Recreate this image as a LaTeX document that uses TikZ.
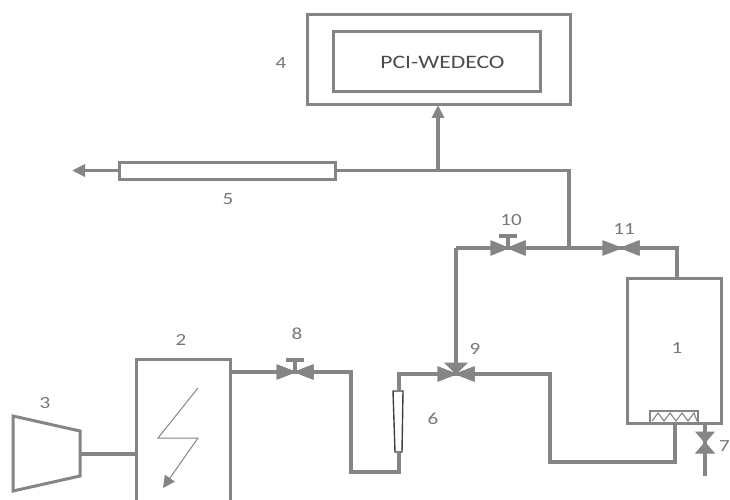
\documentclass[tikz,border=0pt]{standalone}
\usepackage{fontspec}
\setmainfont{Carlito}
\newfontfamily\widefont[FakeStretch=1.24]{Carlito}
\usetikzlibrary{arrows.meta}
\definecolor{pipegray}{gray}{0.52}
\tikzset{
	pipe/.style={draw=pipegray, line width=3.2pt, line join=miter},
	unitbox/.style={draw=pipegray, line width=3pt, fill=white, inner sep=0pt, outer sep=0pt},
	numlabel/.style={text=pipegray!90!black, font=\widefont\fontsize{17}{17}\selectfont, inner sep=0pt},
	valvetri/.style={fill=pipegray, draw=pipegray, line width=1pt, line join=miter},
}
\newcommand{\drawvalve}[3]{% name, position, half length
	\coordinate (#1) at (#2);
	\begin{scope}[shift={(#2)}]
		\fill[valvetri] (0,0) -- (-#3,-7) -- (-#3,7) -- cycle;
		\fill[valvetri] (0,0) -- (#3,-7) -- (#3,7) -- cycle;
	\end{scope}
}
\begin{document}
\begin{tikzpicture}[x=1pt, y=-1pt, >={Triangle[length=13pt,width=12pt]}]
	\useasboundingbox (0,0) rectangle (730,500);
	\clip (0,0) rectangle (730,500);
	\fill[white] (0,0) rectangle (730,500);
	% units
	\node[unitbox, minimum width=263pt, minimum height=90pt] (analyser) at (438.5,60) {};
	\node[unitbox, minimum width=207pt, minimum height=60pt, font=\widefont\fontsize{19}{19}\selectfont, text=black!70] (pci) at (436.5,62) {\hspace{12pt}PCI-WEDECO};
	\node[unitbox, minimum width=216pt, minimum height=17pt] (tube) at (227,170.5) {};
	\node[unitbox, minimum width=94pt, minimum height=145pt] (reactor) at (674,350.5) {};
	\node[unitbox, minimum width=94pt, minimum height=160pt] (ozoniser) at (183,439) {};
	% compressor
	\draw[unitbox] (13,416) -- (80,431) -- (80,476) -- (13,491) -- cycle;
	\coordinate (comp) at (80,454);
	% valves
	\drawvalve{vB}{295,372}{18}
	\drawvalve{vC}{456,374}{18}
	\drawvalve{vD}{508,248}{17}
	\drawvalve{vE}{621,248}{18}
	\coordinate (vA) at (705,442.5);
	\draw[pipe] (vB) -- ++(0,-12) ++(-9,0) -- ++(18,0);
	\draw[pipe] (vD) -- ++(0,-12) ++(-9,0) -- ++(18,0);
	% rotameter
	\coordinate (rotatop) at (399,391);
	\coordinate (rotabot) at (399,452);
	\draw[black!75, line width=1.4pt] (393,391) -- (403,391) -- (402,452) -- (395,452) -- cycle;
	% pipes
	\draw[pipe, ->] (tube.west) -- (72,170.5);
	\coordinate (junctop) at (438,170.5);
	\coordinate (juncval) at (569,248);
	\draw[pipe] (tube.east) -- (569,170.5) -- (juncval);
	\draw[pipe, line width=3.6pt, ->] (junctop) -- (analyser.south -| junctop);
	\draw[pipe] (vC |- vD) -- (vD) (vD) -- (vE) (vE) -- (677,248) -- (677,278);
	\draw[pipe] (vC) -- (vC |- vD);
	\draw[pipe] (comp) -- (ozoniser.west |- comp);
	\draw[pipe] (ozoniser.east |- vB) -- (vB) -- (351,372) -- (351,472) -- (399,472) -- (rotabot);
	\draw[pipe] (rotatop) -- (399,374) -- (vC) -- (550,374) -- (550,462) -- (675,462) -- (675,423);
	\draw[pipe] (705,423) -- (705,476);
	% valve bodies over the pipes
	\drawvalve{vB}{295,372}{18}
	\drawvalve{vC}{456,374}{18}
	\drawvalve{vD}{508,248}{17}
	\drawvalve{vE}{621,248}{18}
	\fill[valvetri] (vC) -- (445,363) -- (467,363) -- cycle;
	\fill[valvetri] (vA) -- (696,432) -- (714,432) -- cycle;
	\fill[valvetri] (vA) -- (696,453) -- (714,453) -- cycle;
	% diffuser
	\draw[pipegray, line width=2.6pt, fill=white] (650,411) rectangle (698,423);
	\draw[pipegray, line width=1.1pt] (652,421) -- (658,413) -- (664,421) -- (670,413) -- (676,421) -- (682,413) -- (688,421) -- (694,413) -- (697,421);
	% discharge symbol
	\draw[pipegray, line width=1pt, ->, >={Triangle[length=12pt,width=12pt]}] (198,388) -- (158,438) -- (198,438) -- (163,488);
	% labels
	\node[numlabel] (lab1) at (677,348) {1};
	\node[numlabel] (lab2) at (181,340) {2};
	\node[numlabel] (lab3) at (45,403) {3};
	\node[numlabel] (lab4) at (281,63) {4};
	\node[numlabel] (lab5) at (228,199) {5};
	\node[numlabel] (lab6) at (433,419) {6};
	\node[numlabel, anchor=east] (lab7) at (730,446) {7};
	\node[numlabel] (lab8) at (297,334) {8};
	\node[numlabel] (lab9) at (475,349) {9};
	\node[numlabel] (lab10) at (511,220) {10};
	\node[numlabel] (lab11) at (624,229) {11};
\end{tikzpicture}
\end{document}
